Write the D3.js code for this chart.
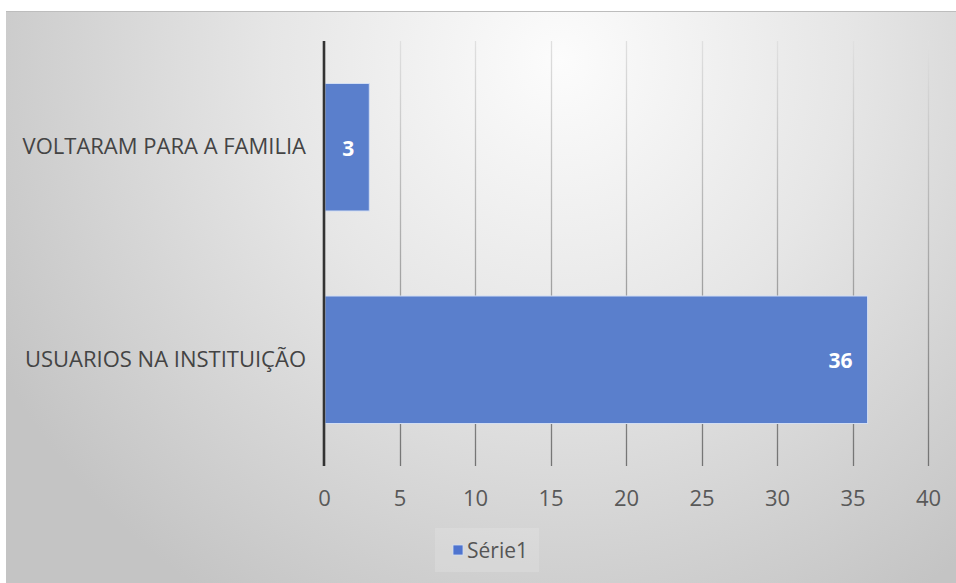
<!DOCTYPE html>
<html>
<head>
<meta charset="utf-8">
<script src="https://cdn.jsdelivr.net/npm/d3@7"></script>
<style>
  html, body { margin: 0; padding: 0; background: #fff; }
  svg { display: block; }
</style>
</head>
<body>
<svg id="chart" width="956" height="583"></svg>
<script>
// Chart data
const categories = ["VOLTARAM PARA A FAMILIA", "USUARIOS NA INSTITUIÇÃO"];
const values = [3, 36];
const seriesName = "Série1";
const xTicks = [0, 5, 10, 15, 20, 25, 30, 35, 40];

const W = 956, H = 583;
const margin = { left: 324, right: 28, top: 41, bottom: 117 };
const font = "'Open Sans', 'DejaVu Sans', sans-serif";

const svg = d3.select("#chart");
const defs = svg.append("defs");

// Soft radial background of the chart area
const bg = defs.append("radialGradient")
  .attr("id", "bg")
  .attr("gradientUnits", "userSpaceOnUse")
  .attr("cx", 560).attr("cy", 60).attr("r", 640);
bg.append("stop").attr("offset", "0%").attr("stop-color", "#fcfcfc");
bg.append("stop").attr("offset", "45%").attr("stop-color", "#e6e6e6");
bg.append("stop").attr("offset", "100%").attr("stop-color", "#c4c4c4");

// Gridlines fade from light at the top to darker at the bottom
const gg = defs.append("linearGradient")
  .attr("id", "gridGrad")
  .attr("gradientUnits", "userSpaceOnUse")
  .attr("x1", 0).attr("y1", margin.top).attr("x2", 0).attr("y2", H - margin.bottom);
gg.append("stop").attr("offset", "0%").attr("stop-color", "#e0e0e0");
gg.append("stop").attr("offset", "100%").attr("stop-color", "#737373");

svg.append("rect")
  .attr("x", 6).attr("y", 11).attr("width", W - 6).attr("height", H - 11)
  .attr("fill", "url(#bg)");
svg.append("line")
  .attr("x1", 6).attr("x2", W).attr("y1", 11.5).attr("y2", 11.5)
  .attr("stroke", "#bdbdbd").attr("stroke-width", 1);

const x = d3.scaleLinear()
  .domain([xTicks[0], xTicks[xTicks.length - 1]])
  .range([margin.left, W - margin.right]);

const y = d3.scaleBand()
  .domain(categories)
  .range([margin.top, H - margin.bottom])
  .paddingInner(0.4)
  .paddingOuter(0.2);

// Vertical gridlines
svg.append("g")
  .selectAll("line")
  .data(xTicks.slice(1))
  .join("line")
  .attr("x1", d => Math.round(x(d)) + 0.5)
  .attr("x2", d => Math.round(x(d)) + 0.5)
  .attr("y1", margin.top)
  .attr("y2", H - margin.bottom)
  .attr("stroke", "url(#gridGrad)")
  .attr("stroke-width", 1.3);

// Bars
svg.append("g")
  .selectAll("rect")
  .data(categories)
  .join("rect")
  .attr("x", x(0) + 1)
  .attr("y", d => y(d))
  .attr("width", (d, i) => x(values[i]) - x(0) - 1)
  .attr("height", y.bandwidth())
  .attr("fill", "#5a7fcc")
  .attr("stroke", "#d2def3")
  .attr("stroke-width", 1);

// Value labels, inside the end of each bar
svg.append("g")
  .selectAll("text")
  .data(categories)
  .join("text")
  .attr("x", (d, i) => x(values[i]) - 15)
  .attr("y", d => y(d) + y.bandwidth() / 2 + 1)
  .attr("dy", "0.35em")
  .attr("text-anchor", "end")
  .attr("fill", "#ffffff")
  .attr("font-family", font)
  .attr("font-weight", "bold")
  .attr("font-size", 21)
  .text((d, i) => values[i]);

// Category axis line
svg.append("line")
  .attr("x1", x(0)).attr("x2", x(0))
  .attr("y1", margin.top).attr("y2", H - margin.bottom)
  .attr("stroke", "#333333").attr("stroke-width", 2.6);

// Category labels
const yAxis = d3.axisLeft(y).tickSize(0).tickPadding(18);
svg.append("g")
  .attr("transform", `translate(${x(0)},0)`)
  .call(yAxis)
  .call(g => g.select(".domain").remove())
  .call(g => g.selectAll("text")
    .attr("font-family", font)
    .attr("font-size", 22)
    .attr("fill", "#444444"));

// Value axis tick labels
const xAxis = d3.axisBottom(x).tickValues(xTicks).tickSize(0).tickPadding(24);
svg.append("g")
  .attr("transform", `translate(0,${H - margin.bottom})`)
  .call(xAxis)
  .call(g => g.select(".domain").remove())
  .call(g => g.selectAll("text")
    .attr("font-family", font)
    .attr("font-size", 22)
    .attr("fill", "#595959"));

// Legend
const legend = svg.append("g");
legend.append("rect")
  .attr("x", 435).attr("y", 528).attr("width", 104).attr("height", 44)
  .attr("fill", "#ffffff").attr("fill-opacity", 0.15);
legend.append("rect")
  .attr("x", 453).attr("y", 545).attr("width", 10).attr("height", 10)
  .attr("fill", "#4f74cf").attr("stroke", "#d2def3").attr("stroke-width", 0.8);
legend.append("text")
  .attr("x", 467).attr("y", 558)
  .attr("font-family", font)
  .attr("font-size", 21)
  .attr("fill", "#555555")
  .text(seriesName);
</script>
</body>
</html>
